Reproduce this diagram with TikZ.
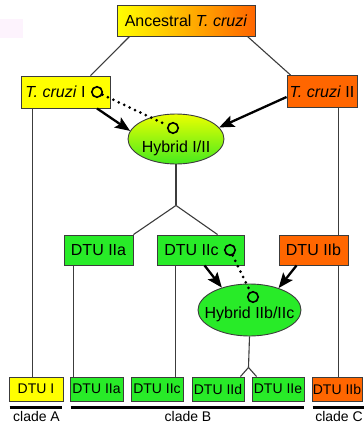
\documentclass[tikz,border=0pt]{standalone}
\usepackage{fontspec}
\setmainfont{Liberation Sans}
\usetikzlibrary{arrows.meta,shapes.geometric,calc}
\definecolor{cyel}{RGB}{255,255,0}
\definecolor{corange}{RGB}{255,102,0}
\definecolor{cgreen}{RGB}{40,235,40}
\definecolor{ceyel}{RGB}{235,255,0}
\definecolor{cegreen}{RGB}{70,234,30}
\definecolor{cline}{RGB}{60,60,60}
\definecolor{cpink}{RGB}{253,243,253}

\begin{document}
\begin{tikzpicture}[x=1pt,y=-1pt,
  box/.style={draw=cline, line width=0.9pt, inner sep=0pt, minimum height=31pt,
              font=\fontsize{16}{19}\selectfont},
  lowbox/.style={draw=cline, line width=0.9pt, inner sep=0pt, minimum height=24pt,
              font=\fontsize{14}{17}\selectfont},
  hyb/.style={ellipse, draw=cline, line width=0.9pt, inner sep=0pt},
  htext/.style={font=\fontsize{16}{19}\selectfont, inner sep=0pt},
  lab/.style={font=\fontsize{14}{17}\selectfont, inner sep=0pt},
  conn/.style={draw=cline, line width=1.1pt},
  arr/.style={-{Stealth[length=15pt,width=12pt,inset=3pt]}, line width=2.3pt, black},
  dots/.style={line width=3pt, line cap=round, dash pattern=on 0pt off 6pt, black},
  circ/.style={circle, draw=black, line width=1.6pt, minimum size=10.5pt, inner sep=0pt},
  bar/.style={line width=3pt, black}
]
\useasboundingbox (0,0) rectangle (364,424);
\fill[cpink] (0,19) rectangle (23,38);

% ancestral strain and the two major lineages
\node[box, minimum width=138pt, left color=cyel, right color=corange] (anc) at (186,20.5)
  {Ancestral \textit{T. cruzi}};
\node[box, minimum width=89pt, minimum height=32pt, fill=cyel] (t1) at (65.5,92)
  {\textit{T. cruzi} I\kern20pt};
\node[box, minimum width=70pt, minimum height=32pt, fill=corange] (t2) at (322,91.5)
  {\textit{T. cruzi} II};

% first hybridisation
\node[hyb, minimum width=96pt, minimum height=50pt, top color=ceyel, bottom color=cegreen] (h1) at (176,139) {};
\node[htext] (h1t) at (176,148) {Hybrid I/II};
\node[circ] (c1) at (97,92) {};
\node[circ] (c2) at (173,128) {};

% middle row of DTUs
\node[box, minimum width=69pt, minimum height=30pt, fill=cgreen] (mIIa) at (98.5,250) {DTU IIa};
\node[box, minimum width=87pt, minimum height=30pt, fill=cgreen] (mIIc) at (200.5,250) {DTU IIc\kern18pt};
\node[box, minimum width=69pt, minimum height=30pt, fill=corange] (mIIb) at (313.5,250) {DTU IIb};

% second hybridisation
\node[hyb, minimum width=103pt, minimum height=52pt, fill=cgreen] (h2) at (249.5,310) {};
\node[htext] (h2t) at (249.5,314) {Hybrid IIb/IIc};
\node[circ] (c3) at (230,250) {};
\node[circ] (c4) at (253,297) {};

% present-day DTUs
\node[lowbox, minimum width=54pt, fill=cyel] (dI) at (36,389) {DTU I};
\node[lowbox, minimum width=53pt, fill=cgreen] (bIIa) at (96.5,389) {DTU IIa};
\node[lowbox, minimum width=52pt, fill=cgreen] (bIIc) at (157,389) {DTU IIc};
\node[lowbox, minimum width=52pt, fill=cgreen] (bIId) at (218,389) {DTU IId};
\node[lowbox, minimum width=52pt, fill=cgreen] (bIIe) at (278,389) {DTU IIe};
\node[lowbox, minimum width=50pt, fill=corange] (bIIb) at (337,389) {DTU IIb};

% tree lines
\draw[conn] ($(anc.south west)+(13,0)$) -- ($(t1.north west)+(70,0)$);
\draw[conn] ($(anc.south east)+(-8,0)$) -- ($(t2.north west)+(4,0)$);
\coordinate (v1) at ($(t1.south west)+(12,0)$);
\draw[conn] (v1) -- (v1 |- dI.north);
\coordinate (v2) at ($(t2.south west)+(52,0)$);
\draw[conn] (v2) -- (v2 |- mIIb.north);
\draw[conn] (v2 |- mIIb.south) -- (v2 |- bIIb.north);
\coordinate (br1) at ($(h1.south)+(0,41)$);
\draw[conn] (h1.south) -- (br1);
\draw[conn] (br1) -- (mIIa.north east);
\draw[conn] (br1) -- ($(mIIc.north west)+(61,0)$);
\coordinate (v3) at ($(mIIa.south west)+(10,0)$);
\draw[conn] (v3) -- (v3 |- bIIa.north);
\coordinate (v4) at ($(mIIc.south west)+(19,0)$);
\draw[conn] (v4) -- (v4 |- bIIc.north);
\coordinate (br2) at ($(h2.south)+(-1,31)$);
\draw[conn] (h2.south) -- (br2);
\draw[conn] (br2) -- ($(bIId.north east)+(-4,0)$);
\draw[conn] (br2) -- ($(bIIe.north west)+(5,0)$);

% parental contributions
\draw[arr] (c1 |- t1.south) -- (h1.170);
\draw[arr] ($(t2.west)+(0,5.5)$) -- (h1.15);
\draw[arr] ($(mIIc.south west)+(48,0)$) -- (h2.141);
\draw[arr] ($(mIIb.south west)+(18,0)$) -- (h2.37);

% mitochondrial inheritance
\draw[dots] (c1) -- (c2);
\draw[dots] (c3) -- (c4);

% clades
\draw[bar] ($(dI.south west)+(1,6)$) -- ($(dI.south east)+(-1,6)$);
\draw[bar] ($(bIIa.south west)+(1,6)$) -- ($(bIIe.south east)+(0,6)$);
\draw[bar] ($(bIIb.south west)+(1,6)$) -- ($(bIIb.south east)+(2,6)$);
\node[lab] (lA) at (36.5,416) {clade A};
\node[lab] (lB) at (188,416) {clade B};
\node[lab] (lC) at (339,416) {clade C};
\end{tikzpicture}
\end{document}
